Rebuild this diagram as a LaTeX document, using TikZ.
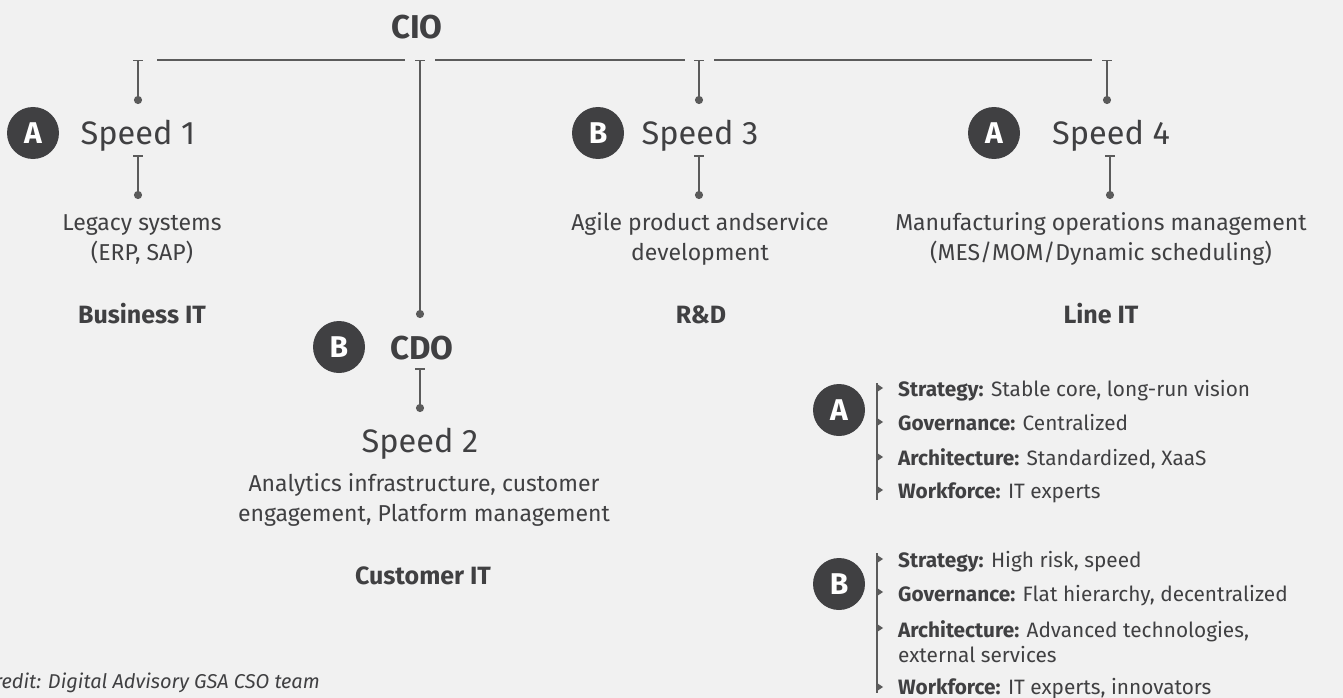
\documentclass[tikz,border=0pt]{standalone}
\usepackage{fontspec}
\setmainfont{Fira Sans}
\usetikzlibrary{arrows.meta}
\definecolor{bg}{HTML}{F1F1F1}
\definecolor{ink}{HTML}{404042}
\definecolor{ln}{HTML}{5B5B5B}
\tikzset{
 conn/.style={draw=ln, line width=2pt, {Bar[width=10pt,line width=1.5pt]}-{Circle[length=8pt]}},
 hline/.style={draw=ln,line width=2pt},
 legline/.style={draw=ln,line width=1.5pt},
 badge/.style={circle, fill=ink, minimum size=52pt, inner sep=0pt, text=white, font=\fontsize{30}{30}\selectfont\bfseries},
 speedtxt/.style={anchor=base, text=ink, inner sep=0pt, font=\fontsize{32.5}{32.5}\selectfont},
 desc/.style={anchor=base, text=ink, inner sep=0pt, font=\fontsize{23}{23}\selectfont},
 dept/.style={anchor=base, text=ink, inner sep=0pt, font=\fontsize{25}{25}\selectfont\bfseries},
 role/.style={anchor=base, text=ink, inner sep=0pt, font=\fontsize{33}{33}\selectfont\bfseries},
 legtxt/.style={anchor=base west, text=ink, inner sep=0pt, font=\fontsize{20.8}{20.8}\selectfont},
 credit/.style={anchor=base east, text=ink, inner sep=0pt, font=\fontsize{20}{20}\selectfont\itshape},
 tri/.style={fill=ln}
}
\begin{document}
\begin{tikzpicture}[x=1pt,y=-1pt]
\fill[bg] (0,0) rectangle (1343,698);
\useasboundingbox (0,0) rectangle (1343,698);
\clip (0,0) rectangle (1343,698);

% top
\node[role] (cio) at (417,39) {CIO};
\coordinate (h1a) at (157,60); \coordinate (h1b) at (405,60);
\coordinate (h2a) at (435,60); \coordinate (h2b) at (685,60);
\coordinate (h3a) at (714,60); \coordinate (h3b) at (1092,60);
\draw[hline] (h1a) -- (h1b);
\draw[hline] (h2a) -- (h2b);
\draw[hline] (h3a) -- (h3b);

% Speed 1
\coordinate (s1t) at (138,60); \coordinate (s1d) at (138,104);
\draw[conn] (s1t) -- (s1d);
\node[badge] (a1) at (33,133) {A};
\node[speedtxt] (sp1) at (138,145) {Speed 1};
\coordinate (s1t2) at (138,155); \coordinate (s1d2) at (138,199);
\draw[conn] (s1t2) -- (s1d2);
\node[desc] (l1a) at (142,230) {Legacy systems};
\node[desc] (l1b) at (142,260) {(ERP, SAP)};
\node[dept] (bit) at (142,323) {Business IT};

% CIO -> CDO
\coordinate (cdot) at (420,60); \coordinate (cdod) at (420,318);
\draw[conn] (cdot) -- (cdod);
\node[badge] (b1) at (339,347) {B};
\node[role] (cdo) at (422,359) {CDO};
\coordinate (cdot2) at (420,368); \coordinate (cdod2) at (420,412);
\draw[conn] (cdot2) -- (cdod2);
\node[speedtxt] (sp2) at (420,452) {Speed 2};
\node[desc] (l2a) at (424,491) {Analytics infrastructure, customer};
\node[desc] (l2b) at (424,521) {engagement, Platform management};
\node[dept] (cit) at (423,584) {Customer IT};

% Speed 3
\coordinate (s3t) at (699,60); \coordinate (s3d) at (699,104);
\draw[conn] (s3t) -- (s3d);
\node[badge] (b2) at (598,133) {B};
\node[speedtxt] (sp3) at (700,145) {Speed 3};
\coordinate (s3t2) at (699,155); \coordinate (s3d2) at (699,199);
\draw[conn] (s3t2) -- (s3d2);
\node[desc] (l3a) at (700,230) {Agile product andservice};
\node[desc] (l3b) at (700,260) {development};
\node[dept] (rd) at (701,323) {R\&D};

% Speed 4
\coordinate (s4t) at (1107,60); \coordinate (s4d) at (1107,104);
\draw[conn] (s4t) -- (s4d);
\node[badge] (a2) at (994,133) {A};
\node[speedtxt] (sp4) at (1111,145) {Speed 4};
\coordinate (s4t2) at (1110,155); \coordinate (s4d2) at (1110,199);
\draw[conn] (s4t2) -- (s4d2);
\node[desc] (l4a) at (1101,230) {Manufacturing operations management};
\node[desc] (l4b) at (1101,260) {(MES/MOM/Dynamic scheduling)};
\node[dept] (lit) at (1101,323) {Line IT};

% legend A
\node[badge] (la) at (839,410) {A};
\coordinate (lat) at (877,383); \coordinate (lab) at (877,500);
\draw[legline] (lat) -- (lab);
\foreach \y in {388,422,457,490} \fill[tri] (877,\y-4) -- (883,\y) -- (877,\y+4) -- cycle;
\node[legtxt] (la1) at (898,396) {\textbf{Strategy:} Stable core, long-run vision};
\node[legtxt] (la2) at (898,430) {\textbf{Governance:} Centralized};
\node[legtxt] (la3) at (898,465) {\textbf{Architecture:} Standardized, XaaS};
\node[legtxt] (la4) at (898,498) {\textbf{Workforce:} IT experts};

% legend B
\node[badge] (lb) at (839,584) {B};
\coordinate (lbt) at (877,553); \coordinate (lbb) at (877,693);
\draw[legline] (lbt) -- (lbb);
\foreach \y in {559,592,628,687} \fill[tri] (877,\y-4) -- (883,\y) -- (877,\y+4) -- cycle;
\node[legtxt] (lb1) at (898,567) {\textbf{Strategy:} High risk, speed};
\node[legtxt] (lb2) at (898,601) {\textbf{Governance:} Flat hierarchy, decentralized};
\node[legtxt] (lb3) at (898,637) {\textbf{Architecture:} Advanced technologies,};
\node[legtxt] (lb3b) at (898,662) {external services};
\node[legtxt] (lb4) at (898,694) {\textbf{Workforce:} IT experts, innovators};

% credit
\node[credit] (cr) at (320,688) {Credit: Digital Advisory GSA CSO team};
\end{tikzpicture}
\end{document}
